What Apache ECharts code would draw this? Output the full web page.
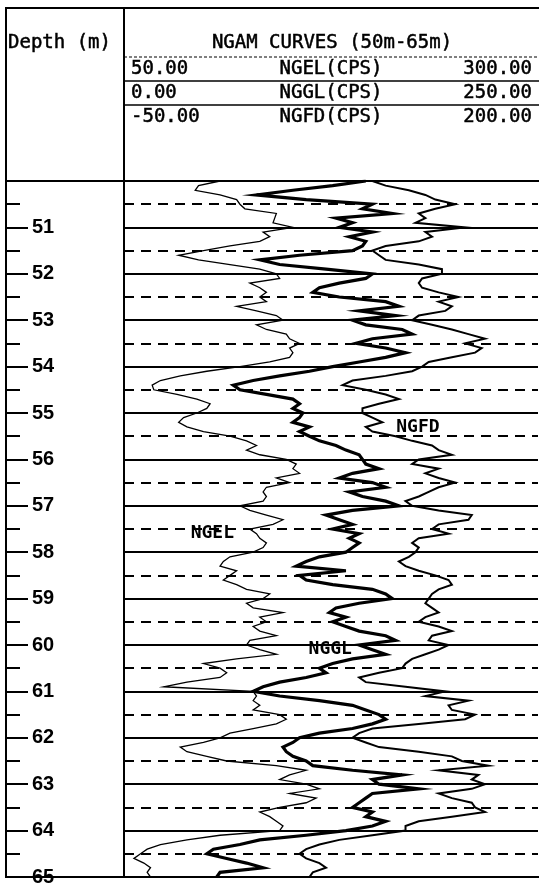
<!DOCTYPE html>
<html>
<head>
<meta charset="utf-8">
<script src="https://cdn.jsdelivr.net/npm/echarts@6/dist/echarts.min.js"></script>
<style>
  html, body { margin: 0; padding: 0; background: #ffffff; }
  #chart { width: 539px; height: 886px; }
</style>
</head>
<body>
<div id="chart"></div>
<script>
// Depth interval of the log (m) and sampling step of the curves
const depthRange = [50, 65];
const depthStep = 0.1;

// Curve names, units and scale ends (left value, right value)
const curveNames = ['NGEL', 'NGGL', 'NGFD'];
const curveUnits = ['CPS', 'CPS', 'CPS'];
const scaleLeft = [50, 0, -50];
const scaleRight = [300, 250, 200];

// NGEL counts, 50.0 m to 65.0 m every 0.1 m
const ngel = [
  108, 95, 93, 108, 118, 120, 123, 142, 141, 140,
  152, 134, 138, 132, 114, 98, 83, 95, 114, 132,
  142, 144, 126, 132, 136, 132, 136, 118, 130, 142,
  146, 130, 136, 148, 150, 156, 150, 152, 150, 138,
  120, 100, 84, 72, 67, 68, 82, 94, 102, 100,
  94, 86, 83, 88, 98, 114, 124, 130, 124, 132,
  148, 154, 152, 156, 142, 150, 136, 134, 136, 134,
  120, 126, 136, 146, 140, 126, 130, 132, 136, 134,
  128, 114, 110, 108, 118, 114, 110, 118, 124, 138,
  134, 124, 128, 146, 132, 136, 128, 132, 142, 126,
  124, 132, 142, 118, 98, 108, 112, 108, 88, 74,
  128, 130, 128, 132, 128, 144, 148, 142, 128, 114,
  108, 98, 84, 88, 100, 112, 142, 160, 150, 144,
  160, 168, 150, 166, 160, 144, 132, 138, 142, 146,
  144, 108, 88, 72, 64, 60, 56, 62, 66, 64,
  66
];

// NGGL counts, 50.0 m to 65.0 m every 0.1 m
const nggl = [
  146, 126, 102, 80, 110, 150, 144, 162, 128, 138,
  130, 150, 136, 146, 144, 138, 106, 82, 94, 122,
  150, 146, 130, 118, 114, 130, 158, 166, 142, 164,
  138, 146, 168, 174, 150, 140, 158, 170, 158, 142,
  126, 112, 94, 78, 66, 70, 86, 102, 106, 102,
  108, 106, 102, 112, 106, 112, 118, 128, 134, 142,
  144, 146, 154, 138, 130, 150, 158, 136, 144, 158,
  166, 138, 122, 130, 138, 126, 142, 136, 142, 138,
  134, 118, 110, 104, 134, 106, 110, 126, 150, 158,
  162, 142, 128, 124, 134, 126, 134, 142, 158, 164,
  142, 150, 158, 138, 126, 118, 122, 110, 94, 84,
  78, 94, 118, 138, 146, 154, 158, 150, 138, 118,
  106, 102, 96, 98, 102, 110, 114, 138, 168, 150,
  154, 178, 150, 146, 142, 138, 150, 146, 158, 150,
  134, 110, 82, 70, 54, 50, 62, 74, 84, 58,
  56
];

// NGFD counts, 50.0 m to 65.0 m every 0.1 m
const ngfd = [
  100, 108, 122, 132, 138, 150, 138, 128, 132, 126,
  156, 132, 136, 128, 108, 100, 104, 108, 128, 142,
  142, 130, 128, 130, 140, 152, 140, 148, 144, 128,
  124, 136, 148, 158, 168, 156, 166, 162, 148, 134,
  130, 124, 108, 88, 82, 96, 108, 116, 104, 94,
  94, 100, 106, 96, 100, 114, 124, 136, 140, 148,
  128, 124, 140, 132, 140, 150, 140, 134, 128, 120,
  124, 140, 160, 158, 140, 136, 146, 128, 124, 128,
  126, 122, 116, 120, 128, 138, 146, 148, 140, 136,
  134, 132, 136, 140, 132, 128, 140, 148, 136, 134,
  146, 140, 132, 124, 120, 118, 104, 92, 96, 120,
  144, 132, 158, 146, 148, 162, 156, 128, 100, 92,
  88, 96, 104, 128, 148, 154, 170, 140, 164, 160,
  168, 160, 140, 148, 160, 162, 168, 148, 128, 120,
  120, 100, 80, 68, 60, 56, 60, 68, 72, 64,
  62
];

// Depths at which the in-track curve names are placed
const nameDepths = [57.6, 60.1, 55.3];

const depths = ngel.map((_, i) => +(depthRange[0] + i * depthStep).toFixed(1));
const curves = [ngel, nggl, ngfd];

const chart = echarts.init(document.getElementById('chart'), null, { renderer: 'canvas' });

const INK = '#000000';
const monoFont = "'DejaVu Sans Mono', 'Liberation Mono', monospace";
const depthFont = "'Liberation Sans Narrow', 'Liberation Sans', Arial, sans-serif";

// page geometry
const frameL = 6, frameR = 539, frameT = 8, headB = 181, frameB = 877, trackL = 124, trackR = 538;

function hline(y, x1, x2, w, dash) {
  return { type: 'line', z: 50, shape: { x1: x1, y1: y, x2: x2, y2: y },
    style: { stroke: INK, lineWidth: w, lineDash: dash || null } };
}
function vline(x, y1, y2, w) {
  return { type: 'line', z: 50, shape: { x1: x, y1: y1, x2: x, y2: y2 },
    style: { stroke: INK, lineWidth: w } };
}
function text(str, x, y, align) {
  return { type: 'text', z: 60, x: x, y: y,
    style: { text: str, fill: INK, stroke: INK, lineWidth: 0.5,
      font: '19px ' + monoFont, textAlign: align, textVerticalAlign: 'middle' } };
}

const fmt = v => v.toFixed(2);
const rowY = [69, 93, 117];
const header = [
  text('Depth (m)', 8, 43, 'left'),
  text('NGAM CURVES (' + depthRange[0] + 'm-' + depthRange[1] + 'm)', 332, 43, 'center'),
  hline(57, trackL, frameR, 1, [3, 2]),
  hline(81, trackL, frameR, 1.5),
  hline(105, trackL, frameR, 1.5)
];
curveNames.forEach((n, i) => {
  header.push(text(fmt(scaleLeft[i]), 131, rowY[i], 'left'));
  header.push(text(n + '(' + curveUnits[i] + ')', 331, rowY[i], 'center'));
  header.push(text(fmt(scaleRight[i]), 532, rowY[i], 'right'));
});

const frame = [
  hline(frameT, frameL - 1, frameR, 2),
  hline(headB, frameL - 1, frameR, 2),
  hline(frameB, frameL - 1, frameR, 2),
  vline(frameL, frameT - 1, frameB + 1, 2),
  vline(trackL, frameT - 1, frameB + 1, 2)
];

const lineWidths = [1.3, 3.2, 2];
const labelSide = ['left', 'left', 'right'];
const labelDist = [22, 20, 30];

const series = curves.map((vals, i) => {
  const idx = depths.indexOf(nameDepths[i]);
  return {
    name: curveNames[i],
    type: 'line',
    xAxisIndex: i + 1,
    yAxisIndex: 2,
    data: vals.map((v, k) => [v, depths[k]]),
    showSymbol: false,
    symbol: 'none',
    smooth: false,
    animation: false,
    lineStyle: { color: INK, width: lineWidths[i], join: 'miter' },
    z: 10 + i,
    markPoint: {
      symbol: 'circle',
      symbolSize: 1,
      itemStyle: { color: 'rgba(0,0,0,0)' },
      animation: false,
      label: {
        show: true,
        position: labelSide[i],
        distance: labelDist[i],
        formatter: curveNames[i],
        color: INK,
        fontFamily: monoFont,
        fontWeight: 'bold',
        fontSize: 18
      },
      data: [{ coord: [vals[idx], nameDepths[i]] }]
    }
  };
});

const hiddenX = (gridIndex, min, max) => ({
  type: 'value', gridIndex: gridIndex, min: min, max: max, show: false,
  splitLine: { show: false }
});

const option = {
  backgroundColor: '#ffffff',
  animation: false,
  grid: [
    { left: frameL, top: headB, width: trackL - frameL, height: frameB - headB, outerBoundsMode: 'none', containLabel: false },
    { left: trackL, top: headB, width: trackR - trackL, height: frameB - headB, outerBoundsMode: 'none', containLabel: false }
  ],
  xAxis: [
    hiddenX(0, 0, 1),
    hiddenX(1, scaleLeft[0], scaleRight[0]),
    hiddenX(1, scaleLeft[1], scaleRight[1]),
    hiddenX(1, scaleLeft[2], scaleRight[2])
  ],
  yAxis: [
    {
      // depth scale with metre labels and half-metre ticks
      type: 'value', gridIndex: 0, inverse: true,
      min: depthRange[0], max: depthRange[1], interval: 1,
      axisLine: { show: true, lineStyle: { color: INK, width: 2 } },
      axisTick: { show: true, inside: true, length: 22, lineStyle: { color: INK, width: 2 } },
      minorTick: { show: true, splitNumber: 2, length: 14, lineStyle: { color: INK, width: 2 } },
      axisLabel: {
        show: true, inside: true, margin: 26, showMinLabel: false,
        color: INK, fontFamily: depthFont, fontWeight: 'bold', fontSize: 20,
        formatter: v => String(v)
      },
      splitLine: { show: false }
    },
    {
      // half-metre dashed grid
      type: 'value', gridIndex: 1, inverse: true,
      min: depthRange[0], max: depthRange[1], interval: 0.5,
      axisLine: { show: false }, axisTick: { show: false }, axisLabel: { show: false },
      splitLine: { show: true, lineStyle: { color: INK, width: 2, type: [10, 7] } }
    },
    {
      // whole-metre solid grid
      type: 'value', gridIndex: 1, inverse: true,
      min: depthRange[0], max: depthRange[1], interval: 1,
      axisLine: { show: false }, axisTick: { show: false }, axisLabel: { show: false },
      splitLine: { show: true, lineStyle: { color: INK, width: 2, type: 'solid' } }
    }
  ],
  series: series,
  graphic: { elements: header.concat(frame) }
};

chart.setOption(option);
</script>
</body>
</html>
